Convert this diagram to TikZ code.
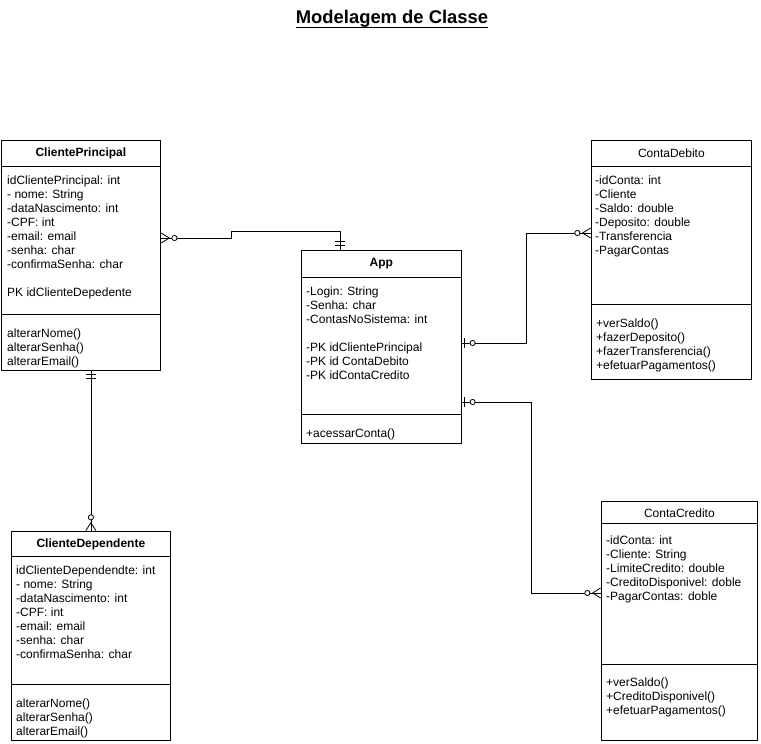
\documentclass[tikz,border=0pt]{standalone}
\usepackage{fontspec}
\setmainfont{Liberation Sans}
\usetikzlibrary{calc,arrows.meta}

\tikzset{
  classbox/.style={draw, line width=0.8pt, anchor=north west, inner sep=0pt},
  classtitle/.style={font=\fontsize{12}{14}\selectfont, inner sep=0pt},
  members/.style={font=\fontsize{12}{14}\selectfont, align=left, anchor=north west, inner sep=0pt},
  sep line/.style={line width=0.8pt},
  rel/.style={draw, line width=0.8pt},
  onlyone/.tip={Bar[width=10pt,sep=3pt] Bar[width=10pt]},
  zeroone/.tip={Circle[length=6pt,width=6pt,fill=white,sep=5pt] Bar[width=10pt]},
  zeromany/.tip={Circle[length=6pt,width=6pt,fill=white,sep=1.5pt] Straight Barb[reversed,length=8pt,width=10pt]},
}

\begin{document}
\begin{tikzpicture}[x=1pt,y=-1pt]
  \useasboundingbox (0,0) rectangle (761,744);
  % title
  \node[font=\fontsize{18.4}{20}\selectfont\bfseries, inner sep=0pt] (title) at (392,19) {Modelagem de Classe};
  \draw[line width=1pt] ($(title.base west)+(0,4)$) -- ($(title.base east)+(0,4)$);

  % ClientePrincipal
  \node[classbox, minimum width=159pt, minimum height=230pt] (cp) at (1,140) {};
  \node[classtitle, font=\fontsize{12}{14}\selectfont\bfseries] (cpname) at ($(cp.north)+(0,13)$) {ClientePrincipal};
  \draw[sep line] ($(cp.north west)+(0,26)$) -- ($(cp.north east)+(0,26)$);
  \draw[sep line] ($(cp.north west)+(0,174)$) -- ($(cp.north east)+(0,174)$);
  \node[members] (cpattr) at ($(cp.north west)+(6,35.7)$) {idClientePrincipal: int\\- nome: String\\-dataNascimento: int\\-CPF: int\\-email: email\\-senha: char\\-confirmaSenha: char\\[14pt]PK idClienteDepedente};
  \node[members] (cpmeth) at ($(cp.north west)+(6,188.5)$) {alterarNome()\\alterarSenha()\\alterarEmail()};

  % App
  \node[classbox, minimum width=160pt, minimum height=193pt] (app) at (301,250) {};
  \node[classtitle, font=\fontsize{12}{14}\selectfont\bfseries] (appname) at ($(app.north)+(0,13.5)$) {App};
  \draw[sep line] ($(app.north west)+(0,27)$) -- ($(app.north east)+(0,27)$);
  \draw[sep line] ($(app.north west)+(0,164)$) -- ($(app.north east)+(0,164)$);
  \node[members] (appattr) at ($(app.north west)+(5,36.7)$) {-Login: String\\-Senha: char\\-ContasNoSistema: int\\[14pt]-PK idClientePrincipal\\-PK id ContaDebito\\-PK idContaCredito};
  \node[members] (appmeth) at ($(app.north west)+(5,178.5)$) {+acessarConta()};

  % ContaDebito
  \node[classbox, minimum width=160pt, minimum height=239pt] (cd) at (591,140) {};
  \node[classtitle] (cdname) at ($(cd.north)+(0,13)$) {ContaDebito};
  \draw[sep line] ($(cd.north west)+(0,26)$) -- ($(cd.north east)+(0,26)$);
  \draw[sep line] ($(cd.north west)+(0,164)$) -- ($(cd.north east)+(0,164)$);
  \node[members] (cdattr) at ($(cd.north west)+(4,35.7)$) {-idConta: int\\-Cliente\\-Saldo: double\\-Deposito: double\\-Transferencia\\-PagarContas};
  \node[members] (cdmeth) at ($(cd.north west)+(5,178.7)$) {+verSaldo()\\+fazerDeposito()\\+fazerTransferencia()\\+efetuarPagamentos()};

  % ContaCredito
  \node[classbox, minimum width=156pt, minimum height=239pt] (cc) at (601,500.5) {};
  \node[classtitle] (ccname) at ($(cc.north)+(0,12.5)$) {ContaCredito};
  \draw[sep line] ($(cc.north west)+(0,23)$) -- ($(cc.north east)+(0,23)$);
  \draw[sep line] ($(cc.north west)+(0,163.5)$) -- ($(cc.north east)+(0,163.5)$);
  \node[members] (ccattr) at ($(cc.north west)+(5,35.2)$) {-idConta: int\\-Cliente: String\\-LimiteCredito: double\\-CreditoDisponivel: doble\\-PagarContas: doble};
  \node[members] (ccmeth) at ($(cc.north west)+(5,177.2)$) {+verSaldo()\\+CreditoDisponivel()\\+efetuarPagamentos()};

  % ClienteDependente
  \node[classbox, minimum width=159pt, minimum height=208.5pt] (cld) at (11,531) {};
  \node[classtitle, font=\fontsize{12}{14}\selectfont\bfseries] (cldname) at ($(cld.north)+(0,13)$) {ClienteDependente};
  \draw[sep line] ($(cld.north west)+(0,25)$) -- ($(cld.north east)+(0,25)$);
  \draw[sep line] ($(cld.north west)+(0,153)$) -- ($(cld.north east)+(0,153)$);
  \node[members] (cldattr) at ($(cld.north west)+(5,34.7)$) {idClienteDependendte: int\\- nome: String\\-dataNascimento: int\\-CPF: int\\-email: email\\-senha: char\\-confirmaSenha: char};
  \node[members] (cldmeth) at ($(cld.north west)+(5,167.7)$) {alterarNome()\\alterarSenha()\\alterarEmail()};

  % relations
  \draw[rel, postaction={draw, {onlyone}-{zeromany}, shorten <=4pt}] ($(app.north west)+(39,0)$) -- ++(0,-19) -| ++(-109,7) -- ($(cp.north east)+(0,98)$);
  \draw[rel, postaction={draw, {onlyone}-{zeromany}, shorten <=3.5pt}] (cld.north |- cp.south) -- (cld.north);
  \draw[rel, postaction={draw, {zeroone}-{zeromany}, shorten <=2pt}] ($(app.north east)+(0,93)$) -| ++(65,-110) -- ($(cd.north west)+(0,93)$);
  \draw[rel, postaction={draw, {zeroone}-{zeromany}, shorten <=2pt}] ($(app.north east)+(0,152)$) -| ++(70,191) -- ($(cc.north west)+(0,92.5)$);
\end{tikzpicture}
\end{document}
